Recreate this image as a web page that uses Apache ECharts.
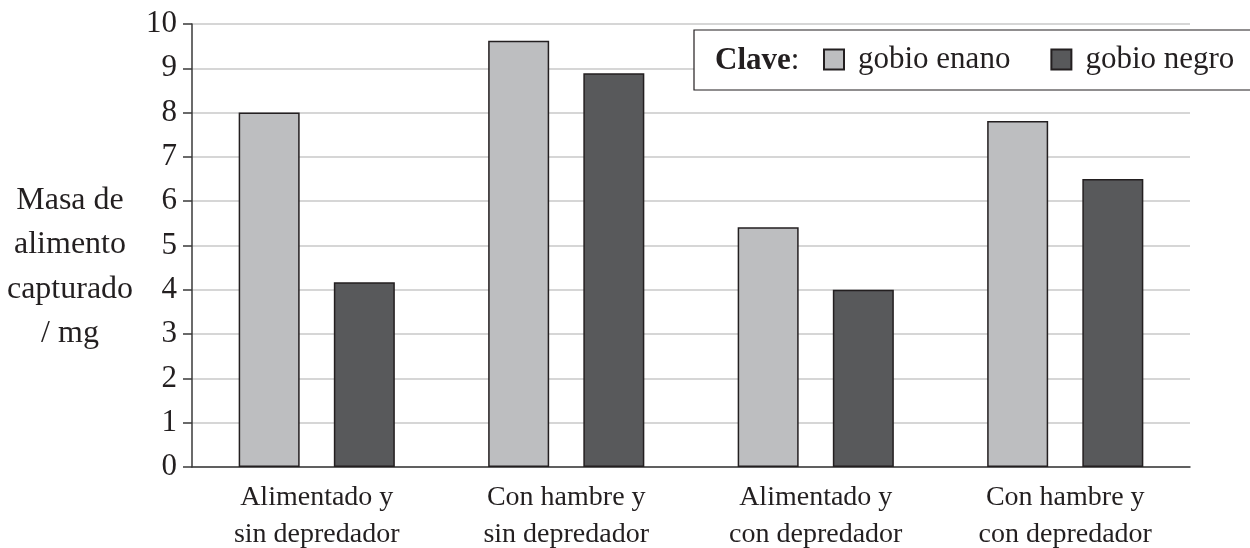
<!DOCTYPE html>
<html>
<head>
<meta charset="utf-8">
<script src="https://cdn.jsdelivr.net/npm/echarts@6/dist/echarts.min.js"></script>
<style>
  html, body { margin: 0; padding: 0; background: #fff; }
  #chart { width: 1250px; height: 548px; }
</style>
</head>
<body>
<div id="chart"></div>
<script>
// datos
var categorias = ['Alimentado y\nsin depredador', 'Con hambre y\nsin depredador', 'Alimentado y\ncon depredador', 'Con hambre y\ncon depredador']
var gobioEnano = [8.0, 9.62, 5.41, 7.81]
var gobioNegro = [4.17, 8.89, 4.0, 6.5]
var nombres = ['gobio enano', 'gobio negro']
var fuente = '"Liberation Serif", "DejaVu Serif", serif'

var myChart = echarts.init(document.getElementById('chart'))

var option = {
  backgroundColor: '#fff',
  animation: false,
  textStyle: { fontFamily: fuente, color: '#231f20' },
  grid: { left: 192, right: 60, top: 24, bottom: 81, containLabel: false, outerBoundsMode: 'none' },
  legend: {
    left: 694,
    top: 30,
    width: 520,
    orient: 'horizontal',
    padding: [14, 0, 14, 129],
    itemWidth: 20,
    itemHeight: 20,
    itemGap: 40,
    z: 5,
    icon: 'rect',
    data: nombres,
    textStyle: { fontFamily: fuente, fontSize: 31, color: '#231f20', padding: [0, 0, 0, 9] }
  },
  graphic: [
    {
      // caja de la clave, abierta por la derecha como en el original
      type: 'rect',
      z: 3,
      shape: { x: 694, y: 30, width: 600, height: 60 },
      style: { fill: '#fff', stroke: null }
    },
    {
      type: 'polyline',
      z: 3,
      shape: { points: [[1300, 30], [694, 30], [694, 90], [1300, 90]] },
      style: { fill: null, stroke: '#231f20', lineWidth: 1.2 }
    },
    {
      type: 'text',
      z: 100,
      x: 715,
      y: 61,
      style: {
        text: '{b|Clave}:',
        font: '31px ' + fuente,
        fill: '#231f20',
        verticalAlign: 'middle',
        rich: { b: { fontWeight: 'bold', fontSize: 31, fontFamily: fuente, fill: '#231f20' } }
      }
    },
    {
      type: 'text',
      x: 70,
      y: 267,
      style: {
        text: 'Masa de\nalimento\ncapturado\n/ mg',
        font: '32px ' + fuente,
        fill: '#231f20',
        align: 'center',
        verticalAlign: 'middle',
        lineHeight: 44.5
      }
    }
  ],
  xAxis: {
    type: 'category',
    data: categorias,
    axisLine: { show: true, lineStyle: { color: '#3a3a3a', width: 1.5 } },
    axisTick: { show: false },
    axisLabel: { fontFamily: fuente, fontSize: 28, color: '#231f20', lineHeight: 37, margin: 12 }
  },
  yAxis: {
    type: 'value',
    min: 0,
    max: 10,
    interval: 1,
    axisLine: { show: true, lineStyle: { color: '#3a3a3a', width: 1.5 } },
    axisTick: { show: true, length: 9, lineStyle: { color: '#3a3a3a', width: 1.5 } },
    axisLabel: { fontFamily: fuente, fontSize: 31, color: '#231f20', margin: 15 },
    splitLine: { show: true, lineStyle: { color: '#c8c8c8', width: 1.5 } }
  },
  series: [
    {
      name: nombres[0],
      type: 'bar',
      data: gobioEnano,
      barWidth: 61,
      barGap: '56%',
      itemStyle: { color: '#bdbec0', borderColor: '#231f20', borderWidth: 1.5 }
    },
    {
      name: nombres[1],
      type: 'bar',
      data: gobioNegro,
      barWidth: 61,
      barGap: '56%',
      itemStyle: { color: '#58595b', borderColor: '#231f20', borderWidth: 1.5 }
    }
  ]
}

myChart.setOption(option)
</script>
</body>
</html>
